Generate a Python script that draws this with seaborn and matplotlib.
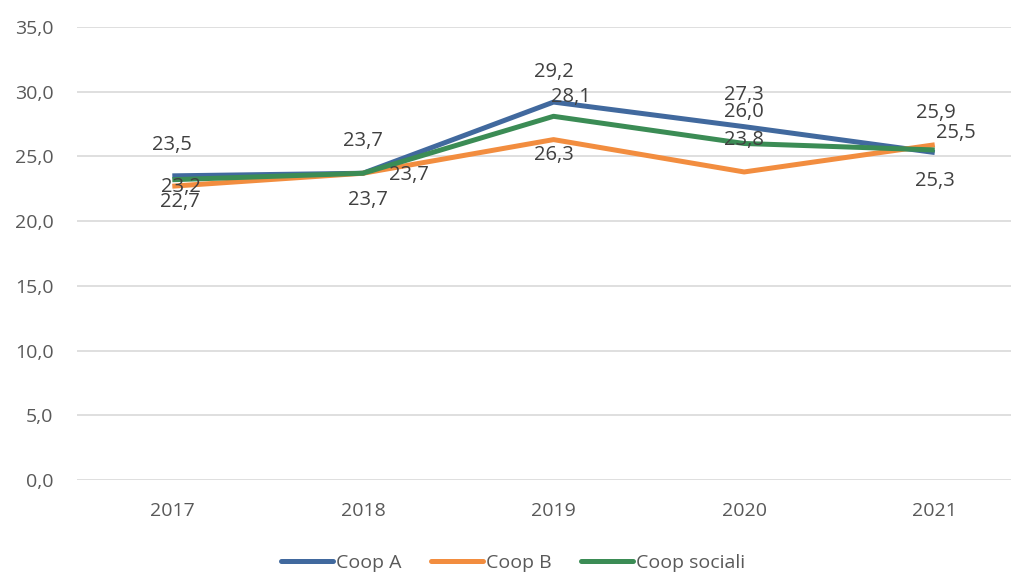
import matplotlib
matplotlib.use("Agg")
import matplotlib.pyplot as plt
import seaborn as sns
import pandas as pd

years = ["2017", "2018", "2019", "2020", "2021"]
series_names = ["Coop A", "Coop B", "Coop sociali"]
coop_a = [23.5, 23.7, 29.2, 27.3, 25.3]
coop_b = [22.7, 23.7, 26.3, 23.8, 25.9]
coop_sociali = [23.2, 23.7, 28.1, 26.0, 25.5]
y_ticks = [0, 5, 10, 15, 20, 25, 30, 35]

colors = {"Coop A": "#41699E", "Coop B": "#F28D3F", "Coop sociali": "#3B8C55"}
# label offsets in pixels (dx, dy), positive dy = up
label_offsets = {
    "Coop A": [(0, 31), (0, 32), (0, 30), (0, 32), (0, -28)],
    "Coop B": [(8, -16), (5, -27), (0, -15), (0, 32), (1, 32)],
    "Coop sociali": [(9, -7), (46, -2), (17, 19), (0, 31), (21, 17)],
}

values = {"Coop A": coop_a, "Coop B": coop_b, "Coop sociali": coop_sociali}
df = pd.DataFrame({
    "year": years * 3,
    "value": coop_a + coop_b + coop_sociali,
    "series": sum([[s] * len(years) for s in series_names], []),
})
df["x"] = df["year"].map({y: i for i, y in enumerate(years)})

sns.set_theme(style="white")
plt.rcParams["font.family"] = ["Open Sans", "DejaVu Sans"]

fig = plt.figure(figsize=(10.11, 5.76), dpi=100)
ax = fig.add_axes([77 / 1011, 96 / 576, 934 / 1011, 453 / 576])

sns.lineplot(data=df, x="x", y="value", hue="series", palette=colors,
             hue_order=series_names, linewidth=3.6, ax=ax, legend=False,
             solid_capstyle="butt")

for s in series_names:
    for i, v in enumerate(values[s]):
        dx, dy = label_offsets[s][i]
        ax.annotate(f"{v:.1f}".replace(".", ","), (i, v), xytext=(dx, dy),
                    textcoords="offset pixels", ha="center", va="center",
                    fontsize=14.5, color="#404040")

ax.set_xlim(-0.5, 4.4)
ax.set_ylim(0, 35)
ax.set_xticks(range(len(years)))
ax.set_xticklabels(years)
ax.set_yticks(y_ticks)
ax.set_yticklabels([f"{t:.1f}".replace(".", ",") for t in y_ticks])
ax.tick_params(axis="both", labelsize=14, colors="#595959", length=0)
ax.tick_params(axis="y", pad=17)
ax.tick_params(axis="x", pad=16)
ax.yaxis.grid(True, color="#D9D9D9", linewidth=1.2)
ax.set_xlabel("")
ax.set_ylabel("")
for sp in ax.spines.values():
    sp.set_visible(False)

handles = [plt.Line2D([0], [0], color=colors[s], lw=3.6) for s in series_names]
fig.legend(handles, series_names, loc="center", bbox_to_anchor=(513 / 1011, 1 - 563 / 576),
           ncol=3, frameon=False, fontsize=14, handlelength=2.7, handletextpad=0.15,
           columnspacing=1.5, labelcolor="#595959")

fig.savefig("out.png", dpi=100)
